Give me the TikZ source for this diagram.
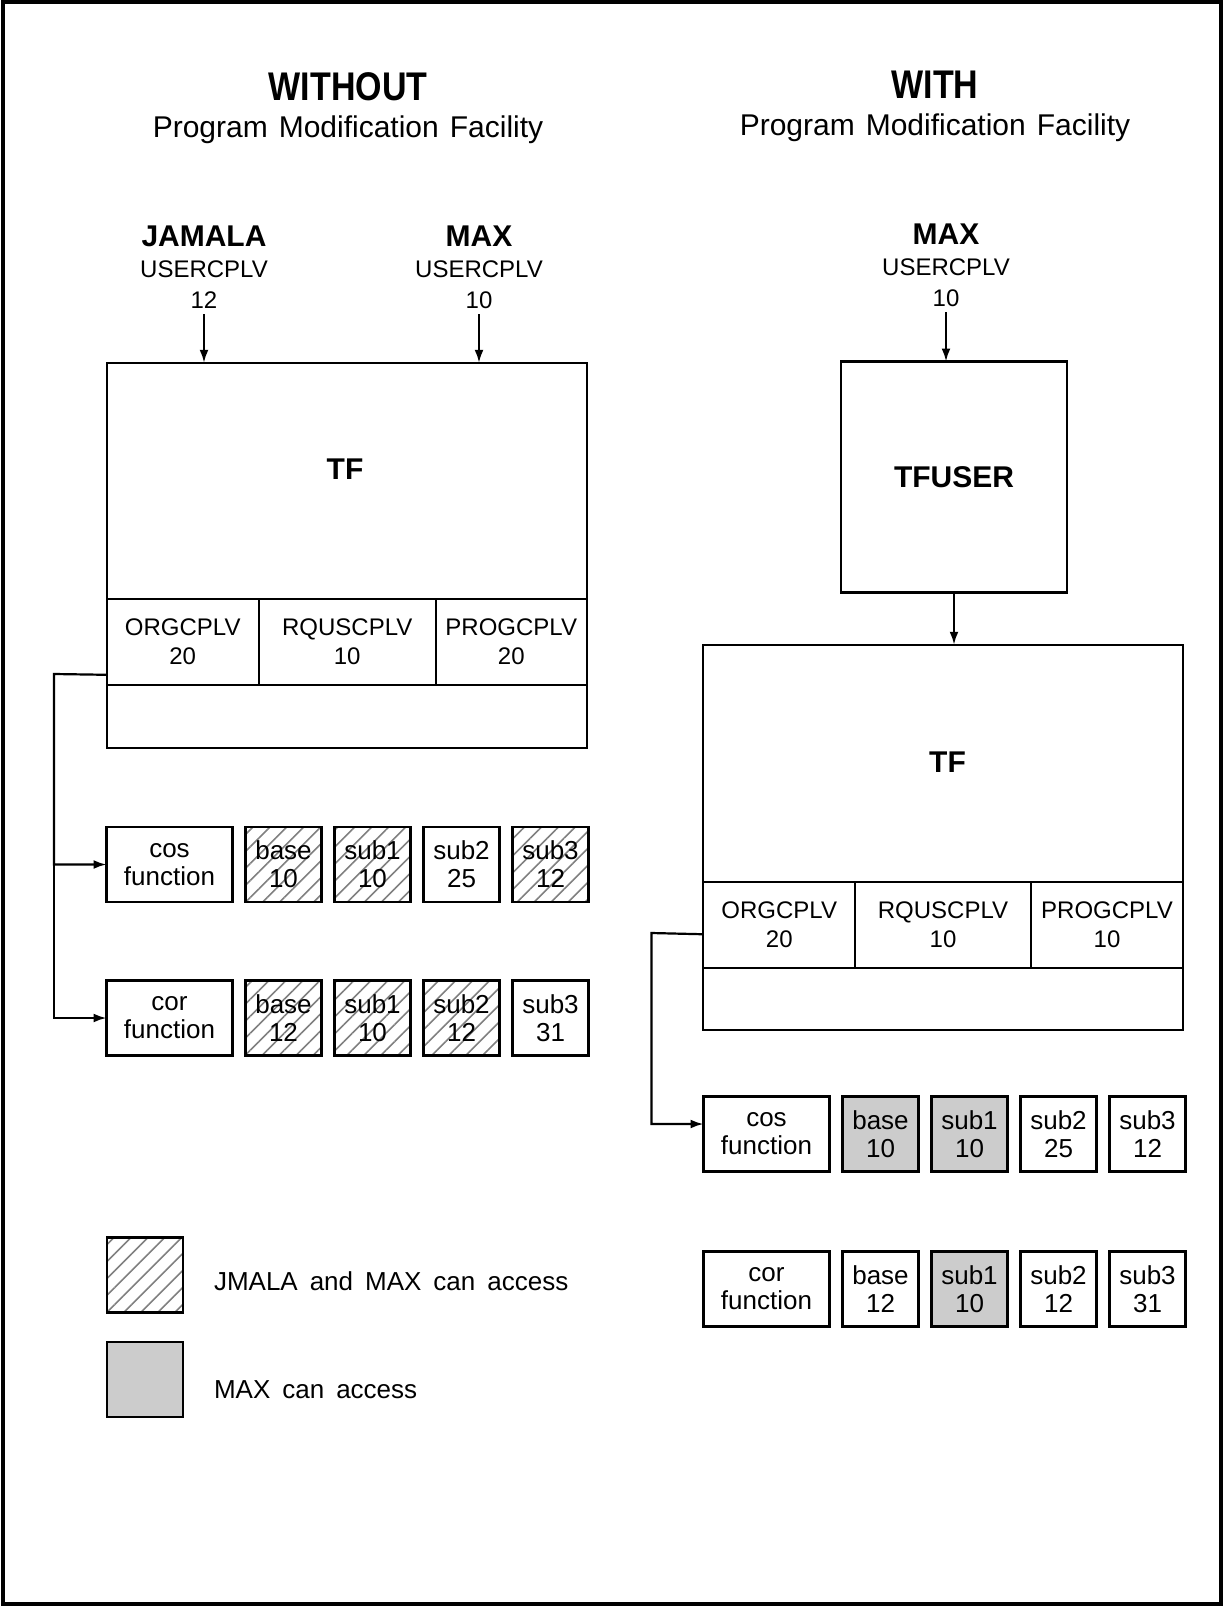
\documentclass[tikz,border=0pt]{standalone}
\usepackage{fontspec}
\setmainfont{Liberation Sans}
\newfontfamily\titlefont[FakeStretch=0.85]{Liberation Sans Bold}
\usetikzlibrary{positioning,calc,patterns.meta,arrows.meta}
\newcommand\bigb{\bfseries\fontsize{15}{18}\selectfont}
\newcommand\capsf{\fontsize{12}{14.3}\selectfont}
\newcommand\subtf{\fontsize{15}{17}\selectfont\spaceskip=5.5pt plus 1pt\relax}
\newcommand\legf{\fontsize{13}{14}\selectfont\spaceskip=6pt plus 1pt\relax}

\begin{document}
\begin{tikzpicture}[
        x=0.5pt, y=-0.5pt,
        every node/.style={font=\fontsize{13}{14}\selectfont, align=center, inner sep=0pt, outer sep=0pt},
        box/.style={draw, line width=1.1pt, minimum width=38pt, minimum height=37.5pt},
        fnbox/.style={box, minimum width=63pt},
        cplv/.style={draw, line width=1.1pt, minimum height=43pt, font=\capsf},
        bigbox/.style={draw, line width=1.1pt, minimum width=240pt, minimum height=192.5pt},
        both/.style={pattern={Lines[angle=45, distance=6pt, line width=0.8pt]}, pattern color=black!50},
        maxonly/.style={fill=black!20},
        user/.style={font=\fontsize{12}{15.5}\selectfont, inner sep=3pt},
        title/.style={font=\titlefont\fontsize{20}{24}\selectfont},
        subtitle/.style={font=\subtf},
        legtext/.style={anchor=west, font=\legf},
        link/.style={draw, line width=1.1pt, -{Latex[length=6.5pt, width=4.5pt]}},
        node distance=6.5pt,
    ]
    \useasboundingbox (0,0) rectangle (1224,1606);
    \draw[line width=1.6pt] (3,2) rectangle (1221,1604);

    % headings
    \node[title] (without) at (348,87) {WITHOUT};
    \node[subtitle] (pmfL) at (348,130) {Program Modification Facility};
    \node[title] (with) at (935,85) {WITH};
    \node[subtitle] (pmfR) at (935,128) {Program Modification Facility};

    % without the facility
    \node[user] (jamala) at (204,267) {{\bigb JAMALA}\\USERCPLV\\12};
    \node[user] (maxL) at (479,267) {{\bigb MAX}\\USERCPLV\\10};
    \node[bigbox] (tfL) at (346.75,555.3) {};
    \node[font=\bigb] at (345,469) {TF};
    \node[cplv, minimum width=76pt, anchor=north west] (orgL) at ($(tfL.north west)+(0,236)$) {ORGCPLV\\20};
    \node[cplv, minimum width=88.5pt, right=0pt of orgL] (rqusL) {RQUSCPLV\\10};
    \node[cplv, minimum width=75.5pt, right=0pt of rqusL] (progL) {PROGCPLV\\20};
    \draw[link] (jamala.south) -- (jamala.south |- tfL.north);
    \draw[link] (maxL.south) -- (maxL.south |- tfL.north);

    \node[fnbox] (cosL) at (169.5,864.5) {cos\\function};
    \node[box, both, right=of cosL] (cosbaseL) {base\\10};
    \node[box, both, right=of cosbaseL] (cossubaL) {sub1\\10};
    \node[box, right=of cossubaL] (cossubbL) {sub2\\25};
    \node[box, both, right=of cossubbL] (cossubcL) {sub3\\12};

    \node[fnbox] (corL) at (169.5,1018) {cor\\function};
    \node[box, both, right=of corL] (corbaseL) {base\\12};
    \node[box, both, right=of corbaseL] (corsubaL) {sub1\\10};
    \node[box, both, right=of corsubaL] (corsubbL) {sub2\\12};
    \node[box, right=of corsubbL] (corsubcL) {sub3\\31};

    \coordinate (busL) at (54,674);
    \draw[link] ($(orgL.west)+(0,33)$) -- (busL) |- (cosL.west);
    \draw[link] (busL) |- (corL.west);

    % legend
    \node[box, both] (legboth) at (145.25,1275) {};
    \node[legtext] (legbothtxt) at (214,1281) {JMALA and MAX can access};
    \node[box, maxonly] (legmax) at (145.25,1379.5) {};
    \node[legtext] (legmaxtxt) at (214,1390) {MAX can access};

    % with the facility
    \node[user] (maxR) at (946,265) {{\bigb MAX}\\USERCPLV\\10};
    \node[draw, line width=1.1pt, minimum width=113pt, minimum height=115.5pt, font=\bigb] (tfuser) at (954,477) {TFUSER};
    \node[bigbox] (tfR) at (943.25,837.25) {};
    \node[font=\bigb] at (947.5,762) {TF};
    \node[cplv, minimum width=76pt, anchor=north west] (orgR) at ($(tfR.north west)+(0,237)$) {ORGCPLV\\20};
    \node[cplv, minimum width=87.75pt, right=0pt of orgR] (rqusR) {RQUSCPLV\\10};
    \node[cplv, minimum width=76.25pt, right=0pt of rqusR] (progR) {PROGCPLV\\10};
    \draw[link] (maxR.south) -- (maxR.south |- tfuser.north);
    \draw[link] (tfuser.south) -- (tfuser.south |- tfR.north);

    \node[fnbox] (cosR) at (766.5,1134) {cos\\function};
    \node[box, maxonly, right=of cosR] (cosbaseR) {base\\10};
    \node[box, maxonly, right=of cosbaseR] (cossubaR) {sub1\\10};
    \node[box, right=of cossubaR] (cossubbR) {sub2\\25};
    \node[box, right=of cossubbR] (cossubcR) {sub3\\12};

    \node[fnbox] (corR) at (766.5,1289) {cor\\function};
    \node[box, right=of corR] (corbaseR) {base\\12};
    \node[box, maxonly, right=of corbaseR] (corsubaR) {sub1\\10};
    \node[box, right=of corsubaR] (corsubbR) {sub2\\12};
    \node[box, right=of corsubbR] (corsubcR) {sub3\\31};

    \coordinate (busR) at (651.5,933);
    \draw[link] ($(orgR.west)+(0,9.5)$) -- (busR) |- ($(cosR.west)+(0,-10)$);
\end{tikzpicture}
\end{document}
